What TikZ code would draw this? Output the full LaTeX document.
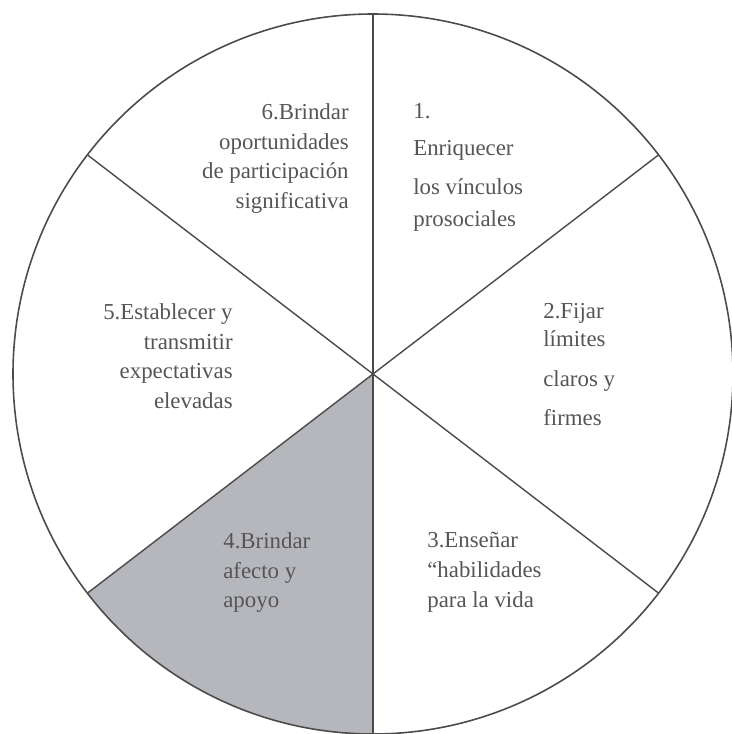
\documentclass[tikz,border=0pt]{standalone}
\usepackage{fontspec}
\setmainfont{Liberation Serif}
\usetikzlibrary{positioning}
\definecolor{sectorgray}{RGB}{182,183,188}
\definecolor{inkgray}{RGB}{75,75,75}
\definecolor{txtgray}{RGB}{85,85,85}
\tikzset{
  rimln/.style={line width=0.9pt, draw=inkgray},
  spokeln/.style={line width=0.8pt, draw=inkgray},
  lbl/.style={inner sep=0pt, text=txtgray, font=\fontsize{13}{17}\selectfont},
}
\begin{document}
\begin{tikzpicture}
    \useasboundingbox (-7.46,-7.20) rectangle (7.16,7.48);
    \def\rad{7.2}
    \coordinate (c) at (0,0);
    % shaded sector 4
    \fill[sectorgray] (c) -- (217.5:\rad)
      arc[start angle=217.5, end angle=270, radius=\rad] -- cycle;
    \draw[rimln] (c) circle[radius=\rad];
    \foreach \ang in {37.5,90,142.5,217.5,270,322.5}
      \draw[spokeln] (c) -- (\ang:\rad);
    % labels
    \node[lbl, align=right, anchor=north east] (s6) at (-0.48,5.42)
      {6.Brindar\\oportunidades\\de participación\\significativa};
    \node[lbl, align=left, anchor=north west] (s1) at (0.80,5.42)
      {1.\\[4pt]Enriquecer\\[5.5pt]los vínculos\\[1pt]prosociales};
    \node[lbl, align=right, anchor=north east] (s5) at (-2.80,1.42)
      {5.Establecer y\\transmitir\\expectativas\\elevadas};
    \node[lbl, align=left, anchor=north west] (s2) at (3.40,1.42)
      {2.Fijar\\[-1pt]límites\\[5.5pt]claros y\\[5.5pt]firmes};
    \node[lbl, align=left, anchor=north west] (s4) at (-3.00,-3.16)
      {4.Brindar\\afecto y\\apoyo};
    \node[lbl, align=left, anchor=north west] (s3) at (1.08,-3.16)
      {3.Enseñar\\``habilidades\\para la vida};
\end{tikzpicture}
\end{document}
